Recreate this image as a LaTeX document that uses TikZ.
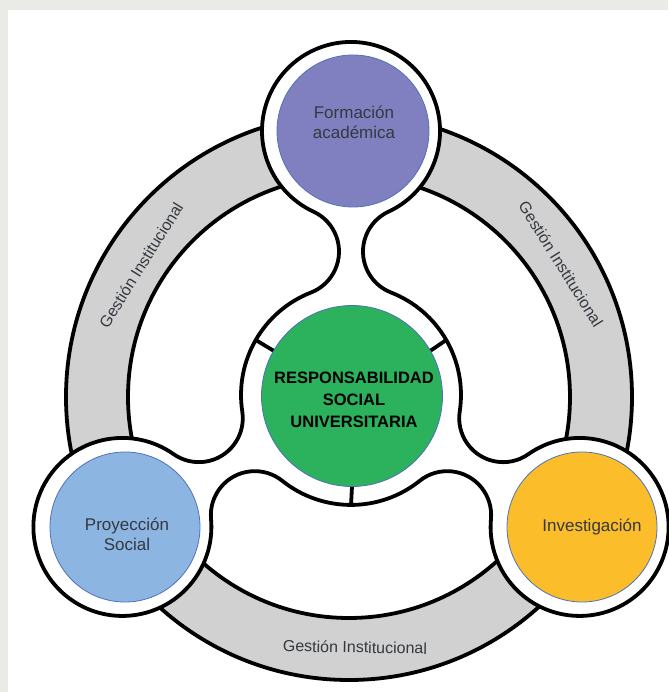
\documentclass[tikz,border=0pt]{standalone}
\usepackage{fontspec}
\setmainfont{Liberation Sans}
\definecolor{paper}{RGB}{234,235,230}
\definecolor{ringgray}{RGB}{209,209,209}
\definecolor{lila}{RGB}{128,128,193}
\definecolor{celeste}{RGB}{141,181,226}
\definecolor{oro}{RGB}{252,189,42}
\definecolor{verde}{RGB}{44,178,92}
\definecolor{borde}{RGB}{79,114,184}
\definecolor{tinta}{RGB}{52,56,64}

\begin{document}
\begin{tikzpicture}[x=1pt, y=1pt,
		outline/.style={draw=black, line width=3.8pt, line join=round},
		disc/.style={circle, draw=borde, line width=0.8pt, minimum size=150pt, inner sep=0pt},
		tag/.style={align=center, text=tinta, font=\fontsize{17}{20}\selectfont},
		gestion/.style={text=tinta, font=\fontsize{16}{18}\selectfont}]
		\fill[paper] (-351,-297) rectangle (317,395);
		\fill[white] (-343,-297) rectangle (317,385);
		\useasboundingbox (-351,-297) rectangle (317,395);

		\coordinate (o) at (-2,-2);
		\fill[ringgray, even odd rule] (o) circle (283pt) (o) circle (221pt);
		\draw[outline] (o) circle (283pt) (o) circle (221pt);

		% satellites, necks and the frame round the centre
		\draw[outline, fill=white] (37.45,183.29)
			\foreach \r in {0,120,240} {
				arc[start angle=\r-65.12, end angle=\r+245.12, radius=89pt]
				arc[start angle=\r+65.12, end angle=\r-68.69, radius=43.93pt]
				arc[start angle=\r+111.31, end angle=\r+188.69, radius=110pt]
				arc[start angle=\r+8.69, end angle=\r-125.12, radius=43.93pt]
			} -- cycle;

		\path (2,264) node[disc, fill=lila, minimum size=152pt] (fa) {}
			(-226,-132) node[disc, fill=celeste] (ps) {}
			(231,-132) node[disc, fill=oro] (inv) {}
			(1,-1) node[disc, fill=verde, minimum size=181pt] (rsu) {};
		\foreach \a in {30,150,270}
			\draw[outline] (rsu.\a) -- (\a:110);

		\node[tag] (fa-t) at (3,273) {Formación\\académica};
		\node[tag] (ps-t) at (-224,-139) {Proyección\\Social};
		\node[tag] (inv-t) at (241,-132) {Investigación};
		\node[tag, text=black, font=\bfseries\fontsize{16.5}{22}\selectfont] (rsu-t) at (3,-5) {RESPONSABILIDAD\\SOCIAL\\UNIVERSITARIA};

		\node[gestion, rotate=58] (g1) at (-210,130) {Gestión Institucional};
		\node[gestion, rotate=-58] (g2) at (210,131) {Gestión Institucional};
		\node[gestion, rotate=-1] (g3) at (4,-252) {Gestión Institucional};
\end{tikzpicture}
\end{document}
